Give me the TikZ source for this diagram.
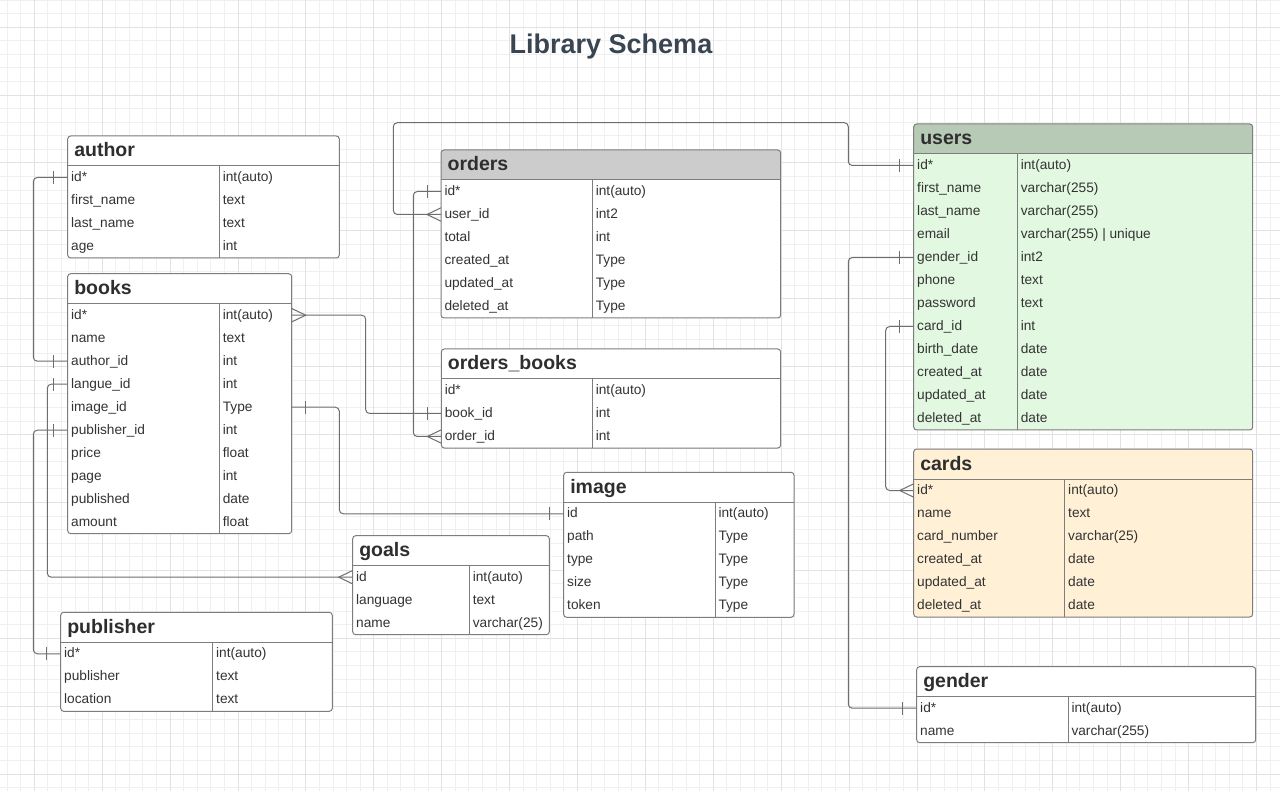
\documentclass[tikz,border=0pt]{standalone}
\usepackage{fontspec}
\setmainfont{Liberation Sans}
\definecolor{gridminor}{HTML}{F0F0F0}
\definecolor{gridmajor}{HTML}{E2E2E2}
\definecolor{linecol}{HTML}{6E6E6E}
\definecolor{txtcol}{HTML}{333333}
\definecolor{titlecol}{HTML}{3A4552}
\definecolor{plainhead}{HTML}{FFFFFF}
\definecolor{plainbody}{HTML}{FFFFFF}
\definecolor{grayhead}{HTML}{CCCCCC}
\definecolor{graybody}{HTML}{FFFFFF}
\definecolor{greenhead}{HTML}{B7CAB5}
\definecolor{greenbody}{HTML}{E2F8E1}
\definecolor{orangehead}{HTML}{FFF0D6}
\definecolor{orangebody}{HTML}{FFF0D6}
\tikzset{
  conn/.style={draw=linecol, line width=1pt},
  tblbox/.style={draw=linecol!90, line width=1pt, rounded corners=3pt, inner sep=0pt, outer sep=0pt},
  rowbox/.style={inner sep=0pt, outer sep=0pt, minimum height=23pt},
  celltxt/.style={inner sep=0pt, outer sep=0pt, text=txtcol, font=\fontsize{13.7}{16}\selectfont, anchor=base west},
  tbltitle/.style={inner sep=0pt, outer sep=0pt, text=txtcol!90!black, font=\bfseries\fontsize{19.5}{22}\selectfont, anchor=base west},
}
% #1 name, #2 x, #3 y, #4 width, #5 divider x, #6 rows count, #7 title, #8 colour set, #9 rows
\newcommand\ertable[9]{%
  \pgfmathsetmacro\tblH{30+23*#6}%
  \node[tblbox, fill=#8body, minimum width=#4pt, minimum height=\tblH pt, anchor=north west,
        path picture={\fill[#8head] (path picture bounding box.north west) rectangle ([yshift=-30pt]path picture bounding box.north east);}]
        (#1) at (#2,#3) {};
  \node[tbltitle] (#1-title) at (#2+6.6,#3+21) {#7};
  \draw[draw=linecol!90, line width=1pt] ([yshift=-30pt]#1.north west) -- ([yshift=-30pt]#1.north east);
  \draw[draw=linecol!90, line width=1pt] (#5,#3+30) -- (#5,#3+\tblH);
  \foreach \ca/\cb [count=\i] in {#9} {%
    \node[rowbox, minimum width=#4pt, anchor=north west] (#1-\i) at (#2,#3+30+23*\i-23) {};
    \node[celltxt] (#1-\i-a) at (#2+3.5,#3+30+23*\i-23+15.5) {\ca};
    \node[celltxt] (#1-\i-b) at (#5+3.5,#3+30+23*\i-23+15.5) {\cb};
  }%
}
\newcommand\tickL[1]{\draw[conn] ([xshift=-14pt,yshift=-6.5pt]#1) -- ([xshift=-14pt,yshift=6.5pt]#1);}
\newcommand\tickR[1]{\draw[conn] ([xshift=14pt,yshift=-6.5pt]#1) -- ([xshift=14pt,yshift=6.5pt]#1);}
\newcommand\crowL[1]{\draw[conn] ([yshift=6.7pt]#1) -- ([xshift=-14pt]#1) -- ([yshift=-6.7pt]#1);}
\newcommand\crowR[1]{\draw[conn] ([yshift=6.7pt]#1) -- ([xshift=14pt]#1) -- ([yshift=-6.7pt]#1);}
\begin{document}
\begin{tikzpicture}[x=1pt,y=-1pt]
\useasboundingbox (0,0) rectangle (1280,791);
\fill[white] (0,0) rectangle (1280,791);
% grid
\foreach \k in {-3,...,94} {\draw[gridminor, line width=0.8pt] (34.2+13.58*\k,0) -- (34.2+13.58*\k,791);}
\foreach \k in {-2,...,58} {\draw[gridminor, line width=0.8pt] (0,27.1+13.58*\k) -- (1280,27.1+13.58*\k);}
\foreach \k in {0,...,18} {\draw[gridmajor, line width=0.8pt] (34.2+67.9*\k,0) -- (34.2+67.9*\k,791);}
\foreach \k in {0,...,11} {\draw[gridmajor, line width=0.8pt] (0,27.1+67.9*\k) -- (1280,27.1+67.9*\k);}
% title
\node[inner sep=0pt, anchor=base, text=titlecol, font=\bfseries\fontsize{27}{30}\selectfont] (title) at (611,53.5) {Library Schema};
% tables
\ertable{author}{67.7}{136}{271.6}{219.3}{4}{author}{plain}{id*/int(auto), first\_name/text, last\_name/text, age/int}
\ertable{books}{67.7}{273.7}{224}{219.3}{10}{books}{plain}{id*/int(auto), name/text, author\_id/int, langue\_id/int, image\_id/Type, publisher\_id/int, price/float, page/int, published/date, amount/float}
\ertable{orders}{441}{150}{339.7}{592.3}{6}{orders}{gray}{id*/int(auto), user\_id/int2, total/int, created\_at/Type, updated\_at/Type, deleted\_at/Type}
\ertable{ob}{441.3}{349}{339.4}{592.3}{3}{orders\_books}{plain}{id*/int(auto), book\_id/int, order\_id/int}
\ertable{users}{913.7}{124}{339}{1017.3}{12}{users}{green}{id*/int(auto), first\_name/varchar(255), last\_name/varchar(255), email/varchar(255) | unique, gender\_id/int2, phone/text, password/text, card\_id/int, birth\_date/date, created\_at/date, updated\_at/date, deleted\_at/date}
\ertable{cards}{913.7}{449}{339}{1064.7}{6}{cards}{orange}{id*/int(auto), name/text, card\_number/varchar(25), created\_at/date, updated\_at/date, deleted\_at/date}
\ertable{gender}{916.7}{666.7}{339}{1068}{2}{gender}{plain}{id*/int(auto), name/varchar(255)}
\ertable{image}{563.7}{472.3}{230.3}{715}{5}{image}{plain}{id/int(auto), path/Type, type/Type, size/Type, token/Type}
\ertable{goals}{352.7}{535.7}{196.6}{469.3}{3}{goals}{plain}{id/int(auto), language/text, name/varchar(25)}
\ertable{publisher}{60.7}{612.3}{271.6}{212.7}{3}{publisher}{plain}{id*/int(auto), publisher/text, location/text}
% connectors
\begin{scope}[rounded corners=4pt]
\draw[conn] (author-1.west) -- ++(-34.4,0) |- (books-3.west);
\draw[conn] (books-1.east) -- ++(74,0) |- (ob-2.west);
\draw[conn] (users-1.west) -- ++(-65.4,0) -- ++(0,-42.8) -| ([xshift=-47.7pt]orders-2.west) -- (orders-2.west);
\draw[conn] (orders-1.west) -- ++(-27.7,0) |- (ob-3.west);
\draw[conn] (books-5.east) -- ++(47.6,0) |- (image-1.west);
\draw[conn] (books-4.west) -- ++(-20.4,0) |- (goals-1.west);
\draw[conn] (books-6.west) -- ++(-34.4,0) |- (publisher-1.west);
\draw[conn] (users-5.west) -- ++(-65.4,0) |- (gender-1.west);
\draw[conn] (users-8.west) -- ++(-28,0) |- (cards-1.west);
\end{scope}
% cardinality marks
\tickL{author-1.west}
\tickL{books-3.west}
\crowR{books-1.east}
\tickL{ob-2.west}
\tickL{users-1.west}
\crowL{orders-2.west}
\tickL{orders-1.west}
\crowL{ob-3.west}
\tickR{books-5.east}
\tickL{image-1.west}
\tickL{books-4.west}
\crowL{goals-1.west}
\tickL{books-6.west}
\tickL{publisher-1.west}
\tickL{users-5.west}
\tickL{gender-1.west}
\tickL{users-8.west}
\crowL{cards-1.west}
\end{tikzpicture}
\end{document}
